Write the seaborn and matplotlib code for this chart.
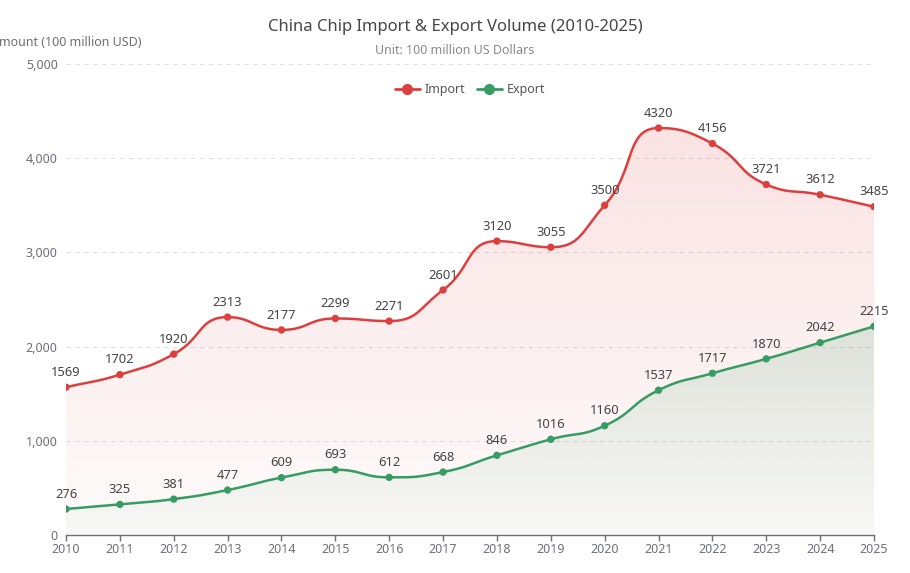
import numpy as np
import matplotlib.pyplot as plt
import seaborn as sns
from matplotlib.lines import Line2D
from matplotlib.patches import Polygon
from matplotlib.colors import to_rgb

# Data (unit: 100 million USD)
years = list(range(2010, 2026))
import_vals = [1569, 1702, 1920, 2313, 2177, 2299, 2271, 2601,
               3120, 3055, 3500, 4320, 4156, 3721, 3612, 3485]
export_vals = [276, 325, 381, 477, 609, 693, 612, 668,
               846, 1016, 1160, 1537, 1717, 1870, 2042, 2215]
y_ticks = [0, 1000, 2000, 3000, 4000, 5000]

RED = '#dd3e3e'
GREEN = '#379c63'
AXIS_GREY = '#6e7079'

sns.set_theme(style='white')
plt.rcParams['font.family'] = ['Noto Sans', 'DejaVu Sans']

fig = plt.figure(figsize=(9.1, 5.73), dpi=100)
ax = fig.add_axes([66 / 910, 38 / 573, 808 / 910, 471 / 573])
ax.set_xlim(2010, 2025)
ax.set_ylim(0, 5000)


def smooth_curve(xs, ys, smooth=0.5, n=30):
    # echarts-like bezier smoothing (control points kept between neighbours), pixel space
    pts = ax.transData.transform(np.column_stack([xs, ys]))
    m = len(pts)
    cps = []
    for i in range(m):
        p = pts[i]
        if i == 0:
            cps.append((p, p + (pts[1] - p) * smooth))
            continue
        if i == m - 1:
            cps.append((p - (p - pts[i - 1]) * smooth, p))
            continue
        prev, nxt = pts[i - 1], pts[i + 1]
        d0 = np.hypot(*(p - prev))
        d1 = np.hypot(*(nxt - p))
        ratio = d1 / (d0 + d1)
        c1 = p + (nxt - prev) * smooth * ratio
        c1 = np.clip(c1, np.minimum(nxt, p), np.maximum(nxt, p))
        c0 = p - (c1 - p) * d0 / d1
        c0 = np.clip(c0, np.minimum(prev, p), np.maximum(prev, p))
        c1 = p + (p - c0) * d1 / d0
        cps.append((c0, c1))
    t = np.linspace(0, 1, n)[:, None]
    out = [pts[0]]
    for i in range(m - 1):
        p0, c1, c2, p3 = pts[i], cps[i][1], cps[i + 1][0], pts[i + 1]
        seg = ((1 - t) ** 3 * p0 + 3 * (1 - t) ** 2 * t * c1
               + 3 * (1 - t) * t ** 2 * c2 + t ** 3 * p3)
        out.extend(seg[1:])
    return ax.transData.inverted().transform(np.array(out))


def gradient_fill(curve, color, a_top, a_bot, zorder):
    poly = np.vstack([curve, [[curve[-1, 0], 0], [curve[0, 0], 0]]])
    patch = Polygon(poly, closed=True, facecolor='none', edgecolor='none')
    ax.add_patch(patch)
    ymax = curve[:, 1].max()
    grad = np.zeros((256, 1, 4))
    grad[:, :, :3] = to_rgb(color)
    grad[:, 0, 3] = np.linspace(a_top, a_bot, 256)
    im = ax.imshow(grad, aspect='auto', extent=[years[0], years[-1], 0, ymax],
                   origin='upper', zorder=zorder, interpolation='bilinear')
    im.set_clip_path(patch)


imp_curve = smooth_curve(years, import_vals)
exp_curve = smooth_curve(years, export_vals)

gradient_fill(imp_curve, RED, 0.15, 0.02, 1)
gradient_fill(exp_curve, GREEN, 0.15, 0.03, 2)

ax.plot(imp_curve[:, 0], imp_curve[:, 1], color=RED, lw=1.8, zorder=3)
ax.plot(exp_curve[:, 0], exp_curve[:, 1], color=GREEN, lw=1.8, zorder=3)
sns.scatterplot(x=years, y=import_vals, color=RED, s=28, edgecolor='none', zorder=4, ax=ax)
sns.scatterplot(x=years, y=export_vals, color=GREEN, s=28, edgecolor='none', zorder=4, ax=ax)

for x, v in zip(years, import_vals):
    ax.annotate(str(v), (x, v), xytext=(0, 6), textcoords='offset points',
                ha='center', va='bottom', fontsize=9.3, color='#444444', zorder=5)
for x, v in zip(years, export_vals):
    ax.annotate(str(v), (x, v), xytext=(0, 6), textcoords='offset points',
                ha='center', va='bottom', fontsize=9.3, color='#444444', zorder=5)

ax.set_xlim(2010, 2025)
ax.set_ylim(0, 5000)
ax.set_xticks(years)
ax.set_xticklabels([str(y) for y in years])
ax.set_yticks(y_ticks)
ax.set_yticklabels([f'{t:,}' for t in y_ticks])
ax.set_xlabel('')
ax.set_ylabel('')

for side in ['top', 'right', 'left']:
    ax.spines[side].set_visible(False)
ax.spines['bottom'].set_color(AXIS_GREY)
ax.spines['bottom'].set_linewidth(1)
ax.spines['bottom'].set_zorder(6)

ax.yaxis.grid(True, linestyle=(0, (4, 4)), color='#e0e0e0', linewidth=0.8)
ax.xaxis.grid(False)
ax.set_axisbelow(True)
ax.tick_params(axis='y', length=0, pad=6, labelsize=9, labelcolor=AXIS_GREY)
ax.tick_params(axis='x', bottom=True, length=4, width=1, color=AXIS_GREY,
               pad=2, labelsize=9, labelcolor=AXIS_GREY)

handles = [Line2D([0], [0], color=RED, lw=2, marker='o', markersize=7),
           Line2D([0], [0], color=GREEN, lw=2, marker='o', markersize=7)]
leg = ax.legend(handles, ['Import', 'Export'], loc='center', bbox_to_anchor=(0.5, 0.945),
                ncol=2, frameon=False, fontsize=9, handlelength=2.0,
                handletextpad=0.4, columnspacing=0.9)
for t in leg.get_texts():
    t.set_color('#555555')

fig.text(0.5, 1 - 27 / 573, 'China Chip Import & Export Volume (2010-2025)',
         ha='center', va='center', fontsize=12, color='#464646')
fig.text(0.5, 1 - 50 / 573, 'Unit: 100 million US Dollars',
         ha='center', va='center', fontsize=9, color='#8a8a8a')
fig.text(66 / 910, 1 - 43 / 573, 'Amount (100 million USD)',
         ha='center', va='center', fontsize=9, color=AXIS_GREY)

fig.savefig('out.png', dpi=100, facecolor='white')
